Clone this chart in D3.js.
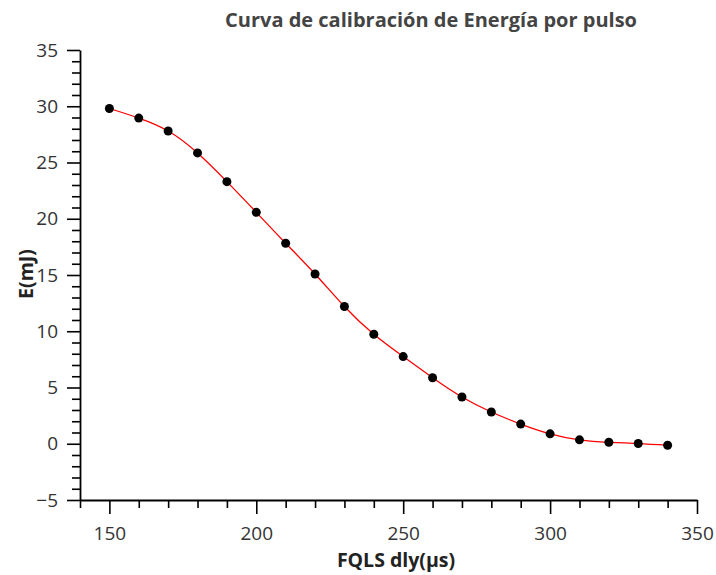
<!DOCTYPE html>
<html>
<head>
<meta charset="utf-8">
<script src="https://cdn.jsdelivr.net/npm/d3@7"></script>
<style>
  body { margin: 0; background: #fff; }
  svg { display: block; font-family: "Open Sans", sans-serif; }
</style>
</head>
<body>
<div id="chart"></div>
<script>
// datos
var delays = [150, 160, 170, 180, 190, 200, 210, 220, 230, 240, 250, 260, 270, 280, 290, 300, 310, 320, 330, 340]
var energy = [29.8, 28.95, 27.8, 25.85, 23.3, 20.57, 17.82, 15.09, 12.2, 9.73, 7.75, 5.87, 4.16, 2.82, 1.75, 0.88, 0.35, 0.13, 0.02, -0.13]
var xTicks = [150, 200, 250, 300, 350]
var yTicks = [-5, 0, 5, 10, 15, 20, 25, 30, 35]

var width = 716
var height = 575
var margin = { left: 80, right: 19, top: 50, bottom: 75 }

var svg = d3.select('#chart').append('svg')
    .attr('width', width)
    .attr('height', height)

var x = d3.scaleLinear().domain([140, 350]).range([margin.left, width - margin.right])
var y = d3.scaleLinear().domain([-5, 35]).range([height - margin.bottom, margin.top])

var points = delays.map(function (d, i) { return { x: d, y: energy[i] } })

// ticks menores
var xMinor = d3.range(140, 351, 10).filter(function (d) { return xTicks.indexOf(d) < 0 })
var yMinor = d3.range(-5, 36, 1).filter(function (d) { return yTicks.indexOf(d) < 0 })

svg.append('g')
    .attr('transform', 'translate(0,' + y(-5) + ')')
    .call(d3.axisBottom(x).tickValues(xMinor).tickSize(8).tickFormat(''))
    .call(function (g) { g.select('.domain').remove() })

svg.append('g')
    .attr('transform', 'translate(' + x(140) + ',0)')
    .call(d3.axisLeft(y).tickValues(yMinor).tickSize(8).tickFormat(''))
    .call(function (g) { g.select('.domain').remove() })

var xAxis = svg.append('g')
    .attr('class', 'axis')
    .attr('transform', 'translate(0,' + y(-5) + ')')
    .call(d3.axisBottom(x).tickValues(xTicks).tickSize(14).tickSizeOuter(0).tickPadding(13))

var yAxis = svg.append('g')
    .attr('class', 'axis')
    .attr('transform', 'translate(' + x(140) + ',0)')
    .call(d3.axisLeft(y).tickValues(yTicks).tickSize(13).tickSizeOuter(0).tickPadding(9))

svg.selectAll('.tick line').attr('stroke', '#000').attr('stroke-width', 1.6)
svg.selectAll('.domain').attr('stroke', '#000').attr('stroke-width', 1.8)
svg.selectAll('.axis text')
    .attr('font-family', '"Open Sans", sans-serif')
    .attr('font-size', 19)
    .attr('fill', '#333')

// curva de ajuste
var line = d3.line()
    .x(function (d) { return x(d.x) })
    .y(function (d) { return y(d.y) })
    .curve(d3.curveNatural)

svg.append('path')
    .datum(points)
    .attr('d', line)
    .attr('fill', 'none')
    .attr('stroke', '#ff0000')
    .attr('stroke-width', 1.3)

svg.selectAll('.pt')
    .data(points)
    .enter().append('circle')
    .attr('class', 'pt')
    .attr('cx', function (d) { return x(d.x) })
    .attr('cy', function (d) { return y(d.y) })
    .attr('r', 4.5)
    .attr('fill', '#000')

svg.append('text')
    .attr('x', 431)
    .attr('y', 27)
    .attr('text-anchor', 'middle')
    .attr('font-weight', 'bold')
    .attr('font-size', 20)
    .attr('fill', '#444')
    .text('Curva de calibración de Energía por pulso')

svg.append('text')
    .attr('x', 396)
    .attr('y', 567)
    .attr('text-anchor', 'middle')
    .attr('font-weight', 'bold')
    .attr('font-size', 19.5)
    .attr('fill', '#222')
    .text('FQLS dly(μs)')

svg.append('text')
    .attr('transform', 'translate(33,274) rotate(-90)')
    .attr('text-anchor', 'middle')
    .attr('font-weight', 'bold')
    .attr('font-size', 19.5)
    .attr('fill', '#222')
    .text('E(mJ)')
</script>
</body>
</html>
